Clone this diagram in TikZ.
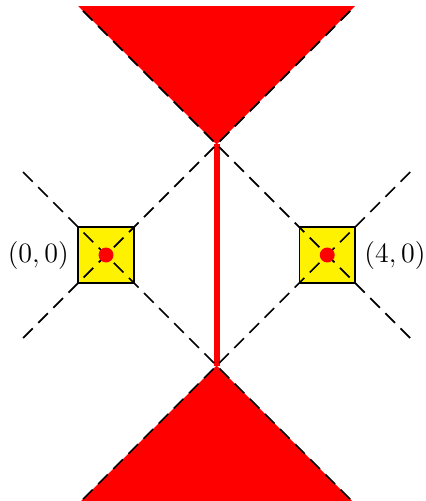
\documentclass[tikz,border=0pt]{standalone}
\begin{document}
\begin{tikzpicture}[
  sq/.style={draw=black,line width=0.9pt,fill=yellow,minimum size=1cm,inner sep=0pt},
  dot/.style={circle,fill=red,minimum size=0.27cm,inner sep=0pt},
  dline/.style={line width=0.9pt,dash pattern=on 7pt off 4pt},
  lab/.style={font=\fontsize{13.6}{16}\selectfont,inner sep=0pt}
]
\useasboundingbox (-1.917,-4.448) rectangle (5.768,4.611);
% coordinates
\coordinate (A) at (2,2);
\coordinate (B) at (2,-2);
\coordinate (TL) at (-0.5,4.5);
\coordinate (TR) at (4.5,4.5);
\coordinate (BL) at (-0.5,-4.5);
\coordinate (BR) at (4.5,-4.5);
\coordinate (L1) at (-1.5,1.5);
\coordinate (L2) at (-1.5,-1.5);
\coordinate (R1) at (5.5,1.5);
\coordinate (R2) at (5.5,-1.5);
% triangles
\fill[red] (A) -- (TL) -- (TR) -- cycle;
\fill[red] (B) -- (BL) -- (BR) -- cycle;
% squares
\node[sq] (p0) at (0,0) {};
\node[sq] (p4) at (4,0) {};
% red segment
\draw[red,line width=3pt] (A) -- (B);
% dashed lines
\draw[dline] (L2) -- (TR);
\draw[dline] (L1) -- (BR);
\draw[dline] (R1) -- (BL);
\draw[dline] (R2) -- (TL);
% dots
\node[dot] (d0) at (p0.center) {};
\node[dot] (d4) at (p4.center) {};
% labels
\node[lab,anchor=east] (l0) at ([xshift=-0.15cm]p0.west) {$(0,0)$};
\node[lab,anchor=west] (l4) at ([xshift=0.15cm]p4.east) {$(4,0)$};
\end{tikzpicture}
\end{document}
